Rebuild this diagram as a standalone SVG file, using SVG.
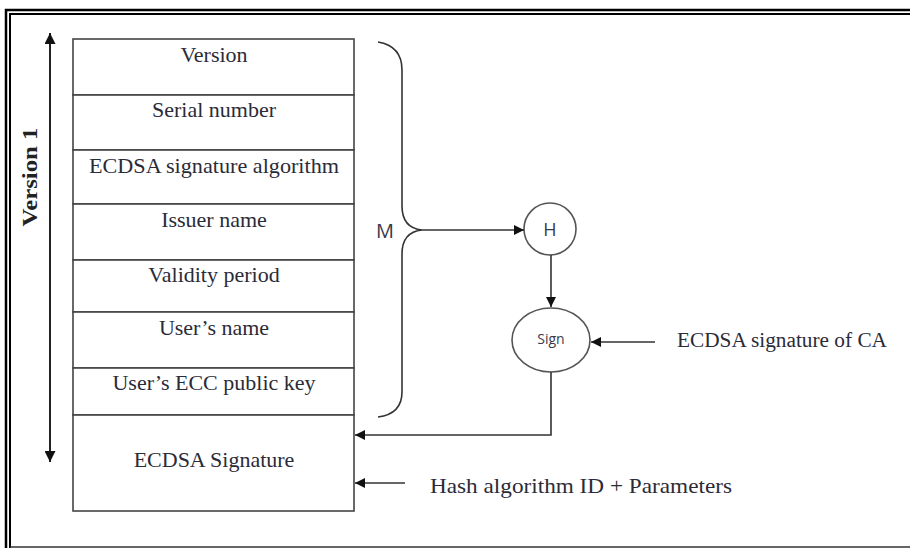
<svg xmlns="http://www.w3.org/2000/svg" width="910" height="548" viewBox="0 0 910 548">
<style>
.cell{fill:#fff;stroke:#444;stroke-width:1.6}
.ct{font-family:"Liberation Serif","Times New Roman",serif;font-size:22px;fill:#2b2b38;text-anchor:middle}
.ln{fill:none;stroke:#333;stroke-width:1.6}
.node{fill:#fff;stroke:#555;stroke-width:1.6}
.sans{font-family:"Open Sans","Liberation Sans",sans-serif;fill:#3a3a4a;text-anchor:middle}
.lbl{font-family:"Liberation Serif","Times New Roman",serif;fill:#2b2b38}
</style>
<defs>
<marker id="ah" viewBox="0 0 10 10" refX="10" refY="5" markerWidth="11" markerHeight="10" markerUnits="userSpaceOnUse" orient="auto">
<path d="M0,0 L10,5 L0,10 z" fill="#111"/>
</marker>
<marker id="ahb" viewBox="0 0 10 10" refX="10" refY="5" markerWidth="14" markerHeight="11" markerUnits="userSpaceOnUse" orient="auto">
<path d="M0,0 L10,5 L0,10 z" fill="#111"/>
</marker>
</defs>
<rect width="910" height="548" fill="#fff"/>
<g id="frame">
<path d="M6,548 V10 H910" fill="none" stroke="#000" stroke-width="2.5"/>
<path d="M10,548 V14 H910" fill="none" stroke="#000" stroke-width="2"/>
<path d="M10,547 H910" fill="none" stroke="#333" stroke-width="1.5"/>
</g>
<g id="version1-label">
<text transform="translate(37,177) rotate(-90)" font-family="Liberation Serif,Times New Roman,serif" font-weight="bold" font-size="20" fill="#222" text-anchor="middle" textLength="99" lengthAdjust="spacingAndGlyphs">Version 1</text>
</g>
<g id="certificate">
<g id="f-version"><rect class="cell" x="73" y="39" width="281" height="56"/><text class="ct" x="214" y="62">Version</text></g>
<g id="f-serial"><rect class="cell" x="73" y="95" width="281" height="55"/><text class="ct" x="214" y="117">Serial number</text></g>
<g id="f-alg"><rect class="cell" x="73" y="150" width="281" height="54"/><text class="ct" x="214" y="173" textLength="250" lengthAdjust="spacingAndGlyphs">ECDSA signature algorithm</text></g>
<g id="f-issuer"><rect class="cell" x="73" y="204" width="281" height="56"/><text class="ct" x="214" y="227">Issuer name</text></g>
<g id="f-validity"><rect class="cell" x="73" y="260" width="281" height="52"/><text class="ct" x="214" y="282">Validity period</text></g>
<g id="f-user"><rect class="cell" x="73" y="312" width="281" height="56"/><text class="ct" x="214" y="335">User’s name</text></g>
<g id="f-key"><rect class="cell" x="73" y="368" width="281" height="47"/><text class="ct" x="214" y="390">User’s ECC public key</text></g>
<g id="f-sig"><rect class="cell" x="73" y="415" width="281" height="96"/><text class="ct" x="214" y="467">ECDSA Signature</text></g>
</g>
<g id="brace">
<path class="ln" d="M378,42 Q402,46 402,70 V206 Q402,228 422,230 Q402,232 402,254 V392 Q402,414 378,417"/>
<text class="sans" x="385" y="238" font-size="20">M</text>
</g>
<g id="H">
<circle class="node" cx="550" cy="229" r="26"/>
<text class="sans" x="550" y="236" font-size="18">H</text>
</g>
<g id="Sign">
<ellipse class="node" cx="551" cy="340" rx="39" ry="32"/>
<text class="sans" x="551" y="344" font-size="14">Sign</text>
</g>
<g id="ca-label">
<text class="lbl" x="677" y="347" font-size="20" textLength="210" lengthAdjust="spacingAndGlyphs">ECDSA signature of CA</text>
</g>
<g id="hash-label">
<text class="lbl" x="430" y="493" font-size="21" textLength="302" lengthAdjust="spacingAndGlyphs">Hash algorithm ID + Parameters</text>
</g>
<g id="connectors">
<line x1="50" y1="240" x2="50" y2="33" stroke="#222" stroke-width="2" marker-end="url(#ahb)"/>
<line x1="50" y1="240" x2="50" y2="462" stroke="#222" stroke-width="2" marker-end="url(#ahb)"/>
<line class="ln" x1="422" y1="230" x2="524" y2="230" marker-end="url(#ah)"/>
<line class="ln" x1="551" y1="255" x2="551" y2="307" marker-end="url(#ah)"/>
<line class="ln" x1="655" y1="342" x2="591" y2="342" marker-end="url(#ah)"/>
<polyline class="ln" points="551,372 551,435 355,435" marker-end="url(#ah)"/>
<line class="ln" x1="405" y1="483" x2="355" y2="483" marker-end="url(#ah)"/>
</g>
</svg>
